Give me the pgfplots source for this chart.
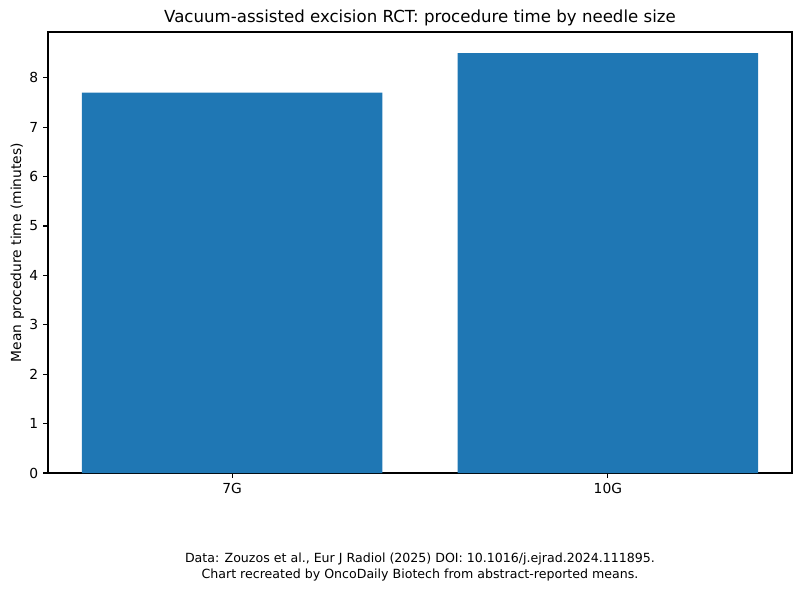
\documentclass[border=0pt]{standalone}
\usepackage{pgfplots}
\pgfplotsset{compat=1.18}
\usepackage{fontspec}
\setmainfont{DejaVu Sans}
\definecolor{mplblue}{HTML}{1F77B4}

\begin{document}
\begin{tikzpicture}[x=0.7227pt,y=0.7227pt]
% page frame in pixels, origin at lower left corner of the axis box
\useasboundingbox (-48,-116) rectangle (752,473);
\begin{axis}[
    at={(0,0)}, anchor=south west,
    scale only axis,
    width=537.7pt, height=318.7pt,
    xmin=-0.49, xmax=1.49,
    ymin=0, ymax=8.925,
    xtick={0,1}, xticklabels={7G,10G},
    ytick={0,1,...,8},
    xtick pos=bottom, ytick pos=left,
    tick align=outside,
    major tick length=3.5pt,
    tick style={black, line width=0.8pt},
    axis line style={line width=0.8pt},
    ticklabel style={font=\fontsize{10}{12}\selectfont},
    /pgf/number format/assume math mode=true,
    ylabel={Mean procedure time (minutes)},
    ylabel style={font=\fontsize{10}{12}\selectfont, yshift=-3pt},
    title={Vacuum-assisted excision RCT: procedure time by needle size},
    title style={font=\fontsize{12}{14}\selectfont, yshift=-5.5pt},
]
\addplot[ybar, bar width=0.8, fill=mplblue, draw=none] coordinates {(0,7.7) (1,8.5)};
\end{axis}
\node[font=\fontsize{9.1}{11}\selectfont, align=center] at (372,-94)
  {Data: Zouzos et al., Eur J Radiol (2025) DOI: 10.1016/j.ejrad.2024.111895.\\
   Chart recreated by OncoDaily Biotech from abstract-reported means.};
\end{tikzpicture}
\end{document}
